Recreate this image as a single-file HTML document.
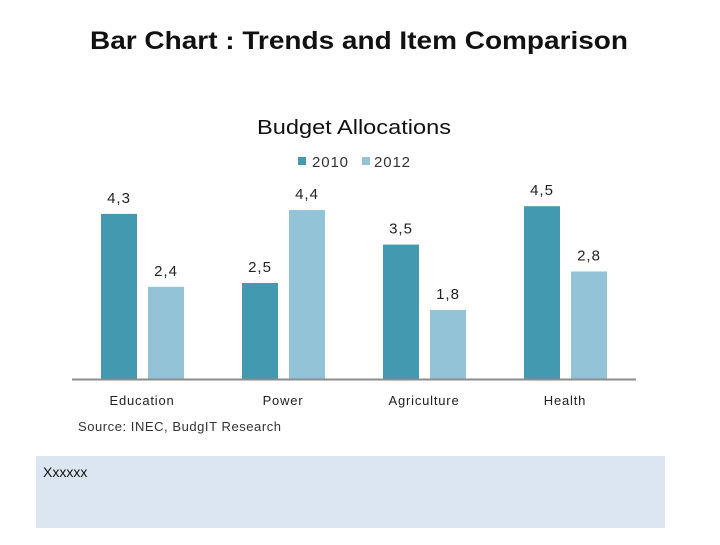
<!DOCTYPE html>
<html><head><meta charset="utf-8"><style>
body{margin:0;width:720px;height:540px;background:#fff;overflow:hidden;font-family:"Liberation Sans",sans-serif}
</style></head><body>
<svg width="720" height="540">
<text x="90" y="49" font-size="25" font-weight="bold" fill="#111" textLength="538" lengthAdjust="spacingAndGlyphs">Bar Chart : Trends and Item Comparison</text>
<text x="257" y="134" font-size="20" fill="#111" textLength="194" lengthAdjust="spacingAndGlyphs">Budget Allocations</text>
<g>
<rect x="298" y="157" width="8" height="8" fill="#4399b0"/>
<text x="312" y="167" font-size="15" fill="#333" textLength="36">2010</text>
<rect x="362" y="157" width="8" height="8" fill="#93c3d6"/>
<text x="374" y="167" font-size="15" fill="#333" textLength="36">2012</text>
</g>
<g id="bars"></g>
<line x1="72" y1="379.5" x2="636" y2="379.5" stroke="#8c8c8c" stroke-width="2"/>
<text x="78" y="431" font-size="13" fill="#333" textLength="203">Source: INEC, BudgIT Research</text>
<rect x="36" y="456" width="629" height="72" fill="#dce6f2"/>
<text x="43" y="477" font-size="14" fill="#111">Xxxxxx</text>
</svg>
<script>
const categories=["Education","Power","Agriculture","Health"];
const series2010=[4.3,2.5,3.5,4.5];
const series2012=[2.4,4.4,1.8,2.8];
const labels2010=["4,3","2,5","3,5","4,5"];
const labels2012=["2,4","4,4","1,8","2,8"];
const NS="http://www.w3.org/2000/svg";
const g=document.getElementById('bars');
const base=379, scale=38.4, bw=36;
function xCat(i){return 142+i*141;}
function yv(v){return base-v*scale;}
function mk(tag,attrs){const e=document.createElementNS(NS,tag);for(const k in attrs)e.setAttribute(k,attrs[k]);g.appendChild(e);return e;}
categories.forEach((c,i)=>{
  const cx=xCat(i);
  [[series2010,labels2010,"#4399b0",cx-41,"2010"],[series2012,labels2012,"#93c3d6",cx+6,"2012"]].forEach(s=>{
    const v=s[0][i];
    const r=mk('rect',{x:s[3],y:yv(v),width:bw,height:base-yv(v),fill:s[2]});
    
    
    const t=mk('text',{x:s[3]+bw/2,y:yv(v)-11,'text-anchor':'middle','font-size':'15',fill:'#222','letter-spacing':'1'});
    t.textContent=s[1][i];
    
    
  });
  const lt=mk('text',{x:cx,y:405,'text-anchor':'middle','font-size':'13',fill:'#222','letter-spacing':'0.8'});
  lt.textContent=c;
  
  
});
</script>
</body></html>
